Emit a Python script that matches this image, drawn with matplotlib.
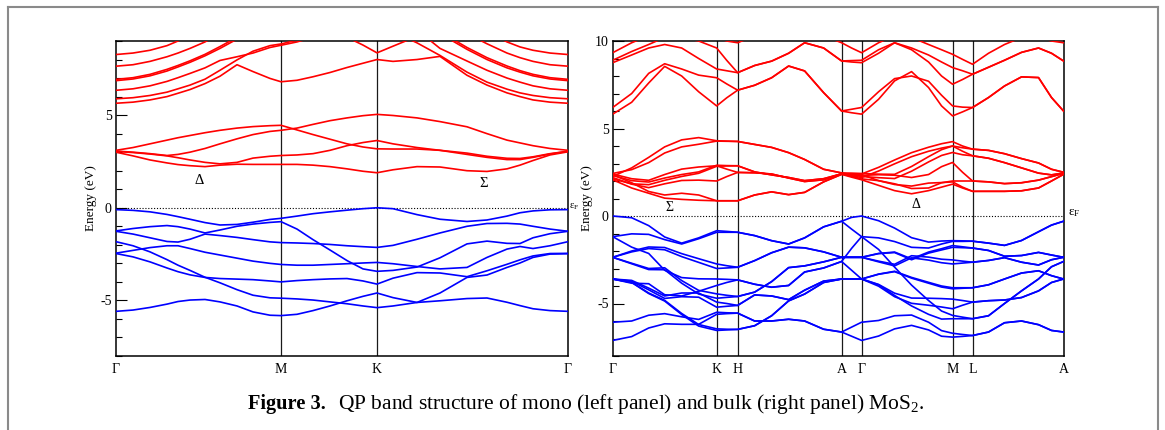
import matplotlib
matplotlib.use('Agg')
import matplotlib.pyplot as plt
from matplotlib.lines import Line2D
from matplotlib.ticker import MultipleLocator

plt.rcParams['font.family'] = ['Liberation Serif', 'DejaVu Serif']
plt.rcParams['axes.unicode_minus'] = False
plt.rcParams['mathtext.fontset'] = 'custom'
plt.rcParams['mathtext.rm'] = 'Liberation Serif'
plt.rcParams['mathtext.it'] = 'Liberation Serif:italic'

# ---------------- monolayer (left panel) ----------------
mono_k = [0, 17, 34, 51, 62, 74, 89, 104, 121, 137, 154, 165, 181, 197, 214, 231,
          247, 261, 277, 301, 324, 351, 371, 391, 404, 417, 434, 452]
mono_sym_k = [0, 165, 261, 452]
mono_sym_lbl = ['Γ', 'M', 'K', 'Γ']

mv1 = [-0.10, -0.14, -0.22, -0.36, -0.48, -0.62, -0.80, -0.93, -0.90, -0.78, -0.63, -0.57, -0.45, -0.32,
       -0.22, -0.13, -0.05, 0.00, -0.05, -0.37, -0.62, -0.74, -0.66, -0.45, -0.27, -0.17, -0.11, -0.10]
mv2 = [-1.25, -1.12, -1.02, -0.96, -1.02, -1.15, -1.36, -1.20, -1.00, -0.88, -0.79, -0.75, -1.15, -1.72,
       -2.28, -2.85, -3.30, -3.43, -3.38, -3.20, -2.70, -1.95, -1.80, -1.92, -1.93, -1.62, -1.40, -1.27]
mv3 = [-1.27, -1.42, -1.62, -1.82, -1.85, -1.70, -1.42, -1.50, -1.60, -1.72, -1.84, -1.88, -1.90, -1.93,
       -1.98, -2.05, -2.10, -2.14, -2.03, -1.70, -1.36, -1.00, -0.85, -0.84, -0.88, -1.00, -1.15, -1.27]
mv4 = [-1.83, -2.05, -2.38, -2.80, -3.10, -3.38, -3.75, -4.05, -4.42, -4.72, -4.86, -4.88, -4.92, -4.98,
       -5.08, -5.18, -5.30, -5.39, -5.30, -5.11, -4.60, -3.76, -3.63, -3.22, -2.98, -2.68, -2.50, -2.48]
mv5 = [-2.47, -2.65, -2.92, -3.25, -3.45, -3.62, -3.76, -3.82, -3.85, -3.88, -3.95, -4.00, -3.93, -3.88,
       -3.84, -3.82, -3.95, -4.12, -3.80, -3.50, -3.52, -3.72, -3.40, -3.05, -2.81, -2.60, -2.47, -2.46]
mv6 = [-2.45, -2.30, -2.15, -2.05, -2.05, -2.20, -2.40, -2.55, -2.72, -2.88, -3.00, -3.06, -3.10, -3.10,
       -3.06, -3.02, -2.98, -2.95, -3.02, -3.17, -3.30, -3.22, -2.68, -2.23, -2.09, -2.20, -2.05, -1.83]
mv7 = [-5.59, -5.52, -5.38, -5.20, -5.06, -4.98, -4.95, -5.08, -5.30, -5.62, -5.80, -5.82, -5.75, -5.55,
       -5.30, -5.02, -4.78, -4.60, -4.85, -5.11, -5.02, -4.90, -4.87, -5.10, -5.28, -5.45, -5.55, -5.59]

mc1 = [3.00, 2.80, 2.58, 2.42, 2.33, 2.27, 2.22, 2.30, 2.35, 2.34, 2.34, 2.34, 2.34, 2.30,
       2.22, 2.10, 1.97, 1.89, 2.05, 2.22, 2.20, 2.00, 1.96, 2.10, 2.30, 2.55, 2.85, 3.02]
mc2 = [3.04, 2.98, 2.90, 2.80, 2.70, 2.58, 2.45, 2.37, 2.45, 2.68, 2.78, 2.82, 2.85, 2.92,
       3.10, 3.35, 3.52, 3.63, 3.45, 3.25, 3.10, 2.95, 2.78, 2.67, 2.66, 2.75, 2.92, 3.05]
mc3 = [3.06, 3.00, 2.92, 2.82, 2.88, 3.00, 3.20, 3.45, 3.72, 3.95, 4.12, 4.18, 4.30, 4.50,
       4.70, 4.85, 4.97, 5.04, 4.98, 4.85, 4.65, 4.37, 4.00, 3.65, 3.50, 3.35, 3.20, 3.10]
mc4 = [3.10, 3.25, 3.45, 3.65, 3.78, 3.90, 4.05, 4.18, 4.30, 4.38, 4.43, 4.45, 4.20, 3.95,
       3.70, 3.45, 3.28, 3.18, 3.17, 3.17, 3.10, 2.88, 2.72, 2.60, 2.60, 2.72, 2.90, 3.05]
mu1 = [5.64, 5.70, 5.82, 6.00, 6.18, 6.38, 6.70, 7.10, 7.72, 7.35, 6.98, 6.80, 6.88, 7.07,
       7.30, 7.57, 7.80, 8.00, 7.90, 8.00, 8.17, 7.15, 6.62, 6.20, 6.00, 5.82, 5.70, 5.64]
mu2 = [5.88, 5.94, 6.06, 6.24, 6.42, 6.62, 6.94, 7.42, 7.98, 8.45, 8.75, 8.84, 9.05, 9.50,
       9.80, 10.0, 10.0, 10.0, 9.50, 8.90, 8.22, 7.32, 6.78, 6.40, 6.20, 6.06, 5.94, 5.88]
mu3 = [6.34, 6.42, 6.58, 6.82, 7.02, 7.25, 7.55, 7.95, 8.15, 8.35, 8.65, 8.77, 8.95, 9.20,
       9.60, 10.0, 10.0, 10.0, 10.0, 9.60, 8.60, 7.92, 7.42, 7.00, 6.78, 6.58, 6.42, 6.34]
mu4 = [6.86, 6.95, 7.12, 7.38, 7.60, 7.85, 8.20, 8.60, 9.10, 9.50, 9.80, 10.0, 10.0, 10.0,
       9.60, 9.20, 8.78, 8.36, 8.72, 9.25, 9.40, 8.55, 8.00, 7.55, 7.32, 7.12, 6.95, 6.86]
mu5 = [6.93, 7.02, 7.20, 7.47, 7.68, 7.93, 8.28, 8.70, 9.20, 9.70, 10.0, 10.0, 10.0, 10.0,
       10.0, 10.0, 10.0, 10.0, 10.0, 10.0, 9.50, 8.65, 8.10, 7.65, 7.40, 7.20, 7.02, 6.93]
mu6 = [7.64, 7.72, 7.90, 8.15, 8.35, 8.60, 8.95, 9.40, 10.0, 10.0, 10.0, 10.0, 10.0, 10.0,
       10.0, 10.0, 10.0, 10.0, 10.0, 10.0, 10.0, 9.40, 8.85, 8.35, 8.10, 7.90, 7.72, 7.64]
mu7 = [8.27, 8.35, 8.50, 8.75, 9.00, 9.30, 9.80, 10.0, 10.0, 10.0, 10.0, 10.0, 10.0, 10.0,
       10.0, 10.0, 10.0, 10.0, 10.0, 10.0, 10.0, 10.0, 9.50, 8.95, 8.68, 8.50, 8.35, 8.27]

# ---------------- bulk (right panel) ----------------
bulk_k = [0, 19, 36, 52, 69, 86, 104, 114, 125, 142, 159, 176, 192, 211, 229, 239,
          249, 266, 282, 299, 316, 329, 340, 350, 360, 376, 392, 409, 426, 439, 451]
bulk_sym_k = [0, 104, 125, 229, 249, 340, 360, 451]
bulk_sym_lbl = ['Γ', 'K', 'H', 'A', 'Γ', 'M', 'L', 'A']

bv1 = [0.00, -0.10, -0.55, -1.20, -1.55, -1.25, -0.84, -0.88, -0.93, -1.12, -1.41, -1.60, -1.25, -0.62, -0.30, -0.08,
       0.00, -0.27, -0.69, -1.24, -1.49, -1.43, -1.41, -1.42, -1.44, -1.55, -1.68, -1.40, -0.90, -0.52, -0.30]
bv2 = [-1.18, -1.02, -1.05, -1.35, -1.60, -1.30, -0.93, -0.93, -0.93, -1.12, -1.41, -1.60, -1.25, -0.62, -0.30, -0.75,
       -1.18, -1.25, -1.46, -1.79, -1.83, -1.60, -1.45, -1.45, -1.44, -1.55, -1.68, -1.40, -0.90, -0.52, -0.30]
bv3 = [-2.36, -2.00, -1.77, -1.80, -2.15, -2.44, -2.74, -2.84, -2.93, -2.55, -2.10, -1.78, -1.82, -2.05, -2.36, -2.36,
       -2.36, -2.58, -2.76, -2.27, -2.35, -2.47, -2.51, -2.58, -2.64, -2.54, -2.38, -2.64, -2.80, -2.50, -2.36]
bv4 = [-2.36, -2.05, -1.86, -1.93, -2.32, -2.65, -3.00, -2.97, -2.93, -2.55, -2.10, -1.78, -1.82, -2.05, -2.36, -2.36,
       -2.36, -2.62, -2.85, -2.39, -2.52, -2.67, -2.74, -2.69, -2.64, -2.54, -2.38, -2.64, -2.80, -2.50, -2.36]
bv5 = [-2.36, -2.70, -3.00, -2.96, -3.69, -4.25, -4.45, -4.53, -4.60, -4.35, -3.75, -2.95, -2.85, -2.62, -2.36, -2.36,
       -2.36, -2.14, -2.06, -2.45, -2.06, -1.87, -1.69, -1.76, -1.83, -1.97, -2.30, -2.26, -2.08, -2.23, -2.36]
bv6 = [-2.36, -2.73, -3.06, -3.07, -3.84, -4.46, -4.70, -4.65, -4.60, -4.35, -3.75, -2.95, -2.85, -2.62, -2.36, -2.36,
       -2.36, -2.15, -2.09, -2.50, -2.12, -1.94, -1.79, -1.81, -1.83, -1.97, -2.30, -2.26, -2.08, -2.23, -2.36]
bv7 = [-1.18, -1.78, -2.14, -3.10, -3.52, -3.59, -3.60, -3.62, -3.65, -3.90, -4.07, -3.97, -3.20, -2.97, -2.60, -1.85,
       -1.18, -1.91, -2.92, -3.95, -4.83, -5.43, -5.68, -5.78, -5.87, -5.70, -5.00, -4.28, -3.60, -2.90, -2.60]
bv8 = [-3.60, -3.84, -3.87, -4.50, -4.57, -4.30, -3.97, -3.80, -3.65, -3.90, -4.07, -3.97, -3.20, -2.97, -2.60, -3.10,
       -3.60, -3.93, -4.54, -5.14, -5.62, -5.89, -5.87, -5.87, -5.87, -5.70, -5.00, -4.28, -3.60, -2.90, -2.60]
bv9 = [-3.60, -3.68, -4.12, -4.57, -4.40, -4.40, -4.92, -5.00, -5.11, -4.51, -4.57, -4.78, -4.24, -3.72, -3.60, -3.60,
       -3.60, -3.32, -3.16, -3.51, -3.79, -4.00, -4.10, -4.10, -4.10, -3.93, -3.60, -3.26, -3.13, -3.41, -3.60]
bv10 = [-3.60, -3.73, -4.22, -4.71, -4.61, -4.64, -5.21, -5.16, -5.11, -4.51, -4.57, -4.78, -4.24, -3.72, -3.60, -3.60,
        -3.60, -3.33, -3.18, -3.55, -3.84, -4.06, -4.16, -4.13, -4.10, -3.93, -3.60, -3.26, -3.13, -3.41, -3.60]
bv11 = [-3.60, -3.79, -4.40, -4.82, -5.57, -6.20, -6.45, -6.47, -6.48, -6.27, -5.70, -4.85, -4.46, -3.80, -3.60, -3.60,
        -3.60, -3.91, -4.41, -4.69, -4.70, -4.72, -4.75, -4.83, -4.92, -4.84, -4.80, -4.66, -4.28, -3.80, -3.60]
bv12 = [-3.60, -3.80, -4.43, -4.86, -5.63, -6.29, -6.54, -6.51, -6.48, -6.27, -5.70, -4.85, -4.46, -3.80, -3.60, -3.60,
        -3.60, -4.01, -4.61, -4.99, -5.10, -5.20, -5.30, -5.10, -4.92, -4.84, -4.80, -4.66, -4.28, -3.80, -3.60]
bv13 = [-6.07, -6.00, -5.67, -5.58, -5.76, -5.91, -5.50, -5.53, -5.55, -6.00, -6.00, -5.90, -6.00, -6.47, -6.63, -6.35,
        -6.07, -5.97, -5.70, -5.66, -6.07, -6.55, -6.70, -6.77, -6.83, -6.63, -6.10, -6.00, -6.21, -6.54, -6.63]
bv14 = [-7.11, -6.89, -6.40, -6.16, -6.19, -6.19, -5.62, -5.58, -5.55, -6.00, -6.00, -5.90, -6.00, -6.47, -6.63, -6.87,
        -7.11, -6.86, -6.45, -6.25, -6.51, -6.87, -6.92, -6.88, -6.83, -6.63, -6.10, -6.00, -6.21, -6.54, -6.63]

bc1a = [2.07, 1.60, 1.30, 1.02, 0.95, 0.90, 0.87, 0.87, 0.87, 1.20, 1.38, 1.22, 1.35, 1.95, 2.38, 2.22,
        2.07, 1.75, 1.45, 1.27, 1.45, 1.65, 1.82, 1.60, 1.41, 1.41, 1.41, 1.44, 1.60, 2.00, 2.38]
bc1b = [2.36, 1.90, 1.40, 1.20, 1.30, 1.20, 0.87, 0.87, 0.87, 1.20, 1.38, 1.22, 1.35, 1.95, 2.38, 2.37,
        2.36, 2.02, 1.80, 1.71, 1.88, 1.91, 1.95, 1.65, 1.41, 1.41, 1.41, 1.44, 1.60, 2.00, 2.38]
bc2a = [2.12, 1.84, 1.79, 2.04, 2.26, 2.44, 2.84, 2.86, 2.87, 2.52, 2.35, 2.20, 2.02, 2.13, 2.41, 2.27,
        2.12, 2.02, 1.84, 1.57, 1.60, 1.90, 2.00, 2.00, 2.00, 1.95, 1.85, 1.90, 2.05, 2.25, 2.44]
bc2b = [2.32, 2.02, 1.94, 2.17, 2.37, 2.52, 2.90, 2.88, 2.87, 2.52, 2.35, 2.20, 2.02, 2.13, 2.41, 2.37,
        2.32, 2.36, 2.33, 2.20, 2.37, 2.82, 3.06, 2.50, 2.00, 1.95, 1.85, 1.90, 2.05, 2.25, 2.44]
bc3a = [2.26, 2.75, 3.35, 3.95, 4.35, 4.48, 4.30, 4.28, 4.26, 4.09, 3.92, 3.62, 3.23, 2.67, 2.46, 2.36,
        2.26, 2.19, 2.14, 2.56, 3.09, 3.46, 3.63, 3.50, 3.44, 3.30, 3.05, 2.75, 2.45, 2.35, 2.46]
bc3b = [2.43, 2.65, 3.05, 3.60, 3.95, 4.10, 4.28, 4.27, 4.26, 4.09, 3.92, 3.62, 3.23, 2.67, 2.46, 2.45,
        2.43, 2.39, 2.38, 2.83, 3.39, 3.79, 4.00, 3.70, 3.44, 3.30, 3.05, 2.75, 2.45, 2.35, 2.46]
bc4a = [2.20, 1.82, 1.62, 1.84, 2.03, 2.05, 2.00, 2.25, 2.49, 2.47, 2.40, 2.17, 1.97, 2.07, 2.41, 2.30,
        2.20, 2.57, 2.98, 3.39, 3.70, 3.88, 4.00, 3.90, 3.82, 3.75, 3.56, 3.28, 3.03, 2.67, 2.50]
bc4b = [2.40, 2.13, 2.04, 2.37, 2.68, 2.80, 2.87, 2.68, 2.49, 2.47, 2.40, 2.17, 1.97, 2.07, 2.41, 2.40,
        2.40, 2.78, 3.20, 3.62, 3.93, 4.13, 4.25, 4.00, 3.82, 3.75, 3.56, 3.28, 3.03, 2.67, 2.50]
bua = [5.82, 6.50, 7.60, 8.55, 8.00, 7.10, 6.29, 6.75, 7.19, 7.47, 7.90, 8.57, 8.29, 7.05, 6.00, 5.90,
       5.82, 6.67, 7.72, 8.25, 7.34, 6.29, 5.72, 5.95, 6.20, 6.77, 7.43, 7.95, 7.91, 6.77, 6.00]
bub = [6.20, 7.00, 8.15, 8.70, 8.40, 8.05, 7.90, 7.55, 7.19, 7.47, 7.90, 8.57, 8.29, 7.05, 6.00, 6.10,
       6.20, 7.10, 7.85, 8.00, 7.70, 6.90, 6.29, 6.22, 6.20, 6.77, 7.43, 7.95, 7.91, 6.77, 6.00]
buc = [8.76, 9.20, 9.60, 9.80, 9.60, 9.00, 8.40, 8.30, 8.19, 8.60, 8.85, 9.30, 9.90, 9.60, 8.86, 8.80,
       8.76, 9.30, 9.90, 9.50, 8.80, 8.00, 7.53, 7.80, 8.10, 8.50, 8.90, 9.35, 9.60, 9.30, 8.86]
bud = [8.90, 9.40, 9.80, 10.2, 10.2, 10.0, 9.60, 8.90, 8.19, 8.60, 8.85, 9.30, 9.90, 9.60, 8.86, 8.88,
       8.90, 9.50, 9.90, 9.60, 9.20, 8.80, 8.48, 8.30, 8.10, 8.50, 8.90, 9.35, 9.60, 9.30, 8.86]
bue = [9.33, 9.90, 10.3, 10.3, 10.3, 10.3, 10.2, 10.0, 9.90, 10.3, 10.3, 10.3, 10.3, 10.3, 9.90, 9.60,
       9.33, 9.90, 10.3, 10.2, 9.80, 9.50, 9.24, 8.95, 8.67, 9.30, 9.80, 10.2, 10.2, 10.0, 9.90]

# ---------------- figure ----------------
W, H = 1165, 430
fig = plt.figure(figsize=(W / 100, H / 100), dpi=100)


def fx(x):
    return x / W


def fy(y):
    return 1 - y / H


# page frame
frame_col = '#8a8a8a'
fig.add_artist(Line2D([fx(7.5), fx(7.5)], [0, fy(6.5)], color=frame_col, lw=1.5))
fig.add_artist(Line2D([fx(1157.5), fx(1157.5)], [0, fy(6.5)], color=frame_col, lw=1.5))
fig.add_artist(Line2D([fx(7.5), fx(1157.5)], [fy(6.5), fy(6.5)], color=frame_col, lw=1.5))

ax1 = fig.add_axes([fx(116), fy(356), (568 - 116) / W, 315 / H])
ax2 = fig.add_axes([fx(612.7), fy(356), (1063.5 - 612.7) / W, 315 / H])


def style(ax, kpts, labels, ylim, majors, ylab_x):
    ax.set_xlim(kpts[0], kpts[-1])
    ax.set_ylim(*ylim)
    for k in kpts[1:-1]:
        ax.axvline(k, color='#1a1a1a', lw=0.9, zorder=1)
    ax.axhline(0, color='k', lw=0.8, ls=(0, (1, 1.6)), zorder=1)
    ax.set_xticks(kpts)
    ax.set_xticklabels(labels)
    ax.tick_params(axis='x', length=0, pad=5, labelsize=10)
    ax.set_yticks(majors)
    ax.set_yticklabels([str(m) for m in majors])
    ax.yaxis.set_minor_locator(MultipleLocator(1))
    ax.tick_params(axis='y', which='major', direction='in', length=8, width=0.8,
                   labelsize=10, pad=3)
    ax.tick_params(axis='y', which='minor', direction='in', length=4, width=0.8)
    ax.set_ylabel('Energy (eV)', fontsize=9.5)
    ax.yaxis.set_label_coords(ylab_x, 0.5)
    for s in ax.spines.values():
        s.set_linewidth(1.1)


# label coordinates give the right-hand edge of the rotated label
style(ax1, mono_sym_k, mono_sym_lbl, (-8, 9), [-5, 0, 5], -0.041)
style(ax2, bulk_sym_k, bulk_sym_lbl, (-8, 10), [-5, 0, 5, 10], -0.043)

red, blue = '#ff0000', '#0000ff'
lw = 1.2
for band in (mv1, mv2, mv3, mv4, mv5, mv6, mv7):
    ax1.plot(mono_k, band, color=blue, lw=lw, zorder=3)
for band in (mc1, mc2, mc3, mc4, mu1, mu2, mu3, mu4, mu5, mu6, mu7):
    ax1.plot(mono_k, band, color=red, lw=lw, zorder=3)
for band in (bv1, bv2, bv3, bv4, bv5, bv6, bv7, bv8, bv9, bv10, bv11, bv12, bv13, bv14):
    ax2.plot(bulk_k, band, color=blue, lw=lw, zorder=3)
for band in (bc1a, bc1b, bc2a, bc2b, bc3a, bc3b, bc4a, bc4b, bua, bub, buc, bud, bue):
    ax2.plot(bulk_k, band, color=red, lw=lw, zorder=3)

# symmetry-line labels
ax1.text(83, 1.48, 'Δ', ha='center', va='center', fontsize=10.5)
ax1.text(368, 1.32, 'Σ', ha='center', va='center', fontsize=10.5)
ax2.text(57, 0.49, 'Σ', ha='center', va='center', fontsize=10)
ax2.text(303, 0.68, 'Δ', ha='center', va='center', fontsize=10)

# Fermi level labels
fig.text(fx(569), fy(207), 'ε$_{\\mathrm{F}}$', ha='left', va='center', fontsize=7.5)
fig.text(fx(1068), fy(213), 'ε$_{\\mathrm{F}}$', ha='left', va='center', fontsize=9.5)

# caption
t1 = fig.text(fx(248), fy(404), 'Figure 3.', fontweight='bold', fontsize=12.5,
              ha='left', va='center')
t2 = fig.text(fx(338), fy(404), 'QP band structure of mono (left panel) and bulk (right panel) MoS$_2$.',
              fontsize=12.5, ha='left', va='center')
fig.canvas.draw()
r = fig.canvas.get_renderer()
w2 = t2.get_window_extent(r).width
t2.set_fontsize(12.5 * 587.0 / w2)
w1 = t1.get_window_extent(r).width
t1.set_fontsize(12.5 * 78.0 / w1)

fig.savefig('out.png', dpi=100)
